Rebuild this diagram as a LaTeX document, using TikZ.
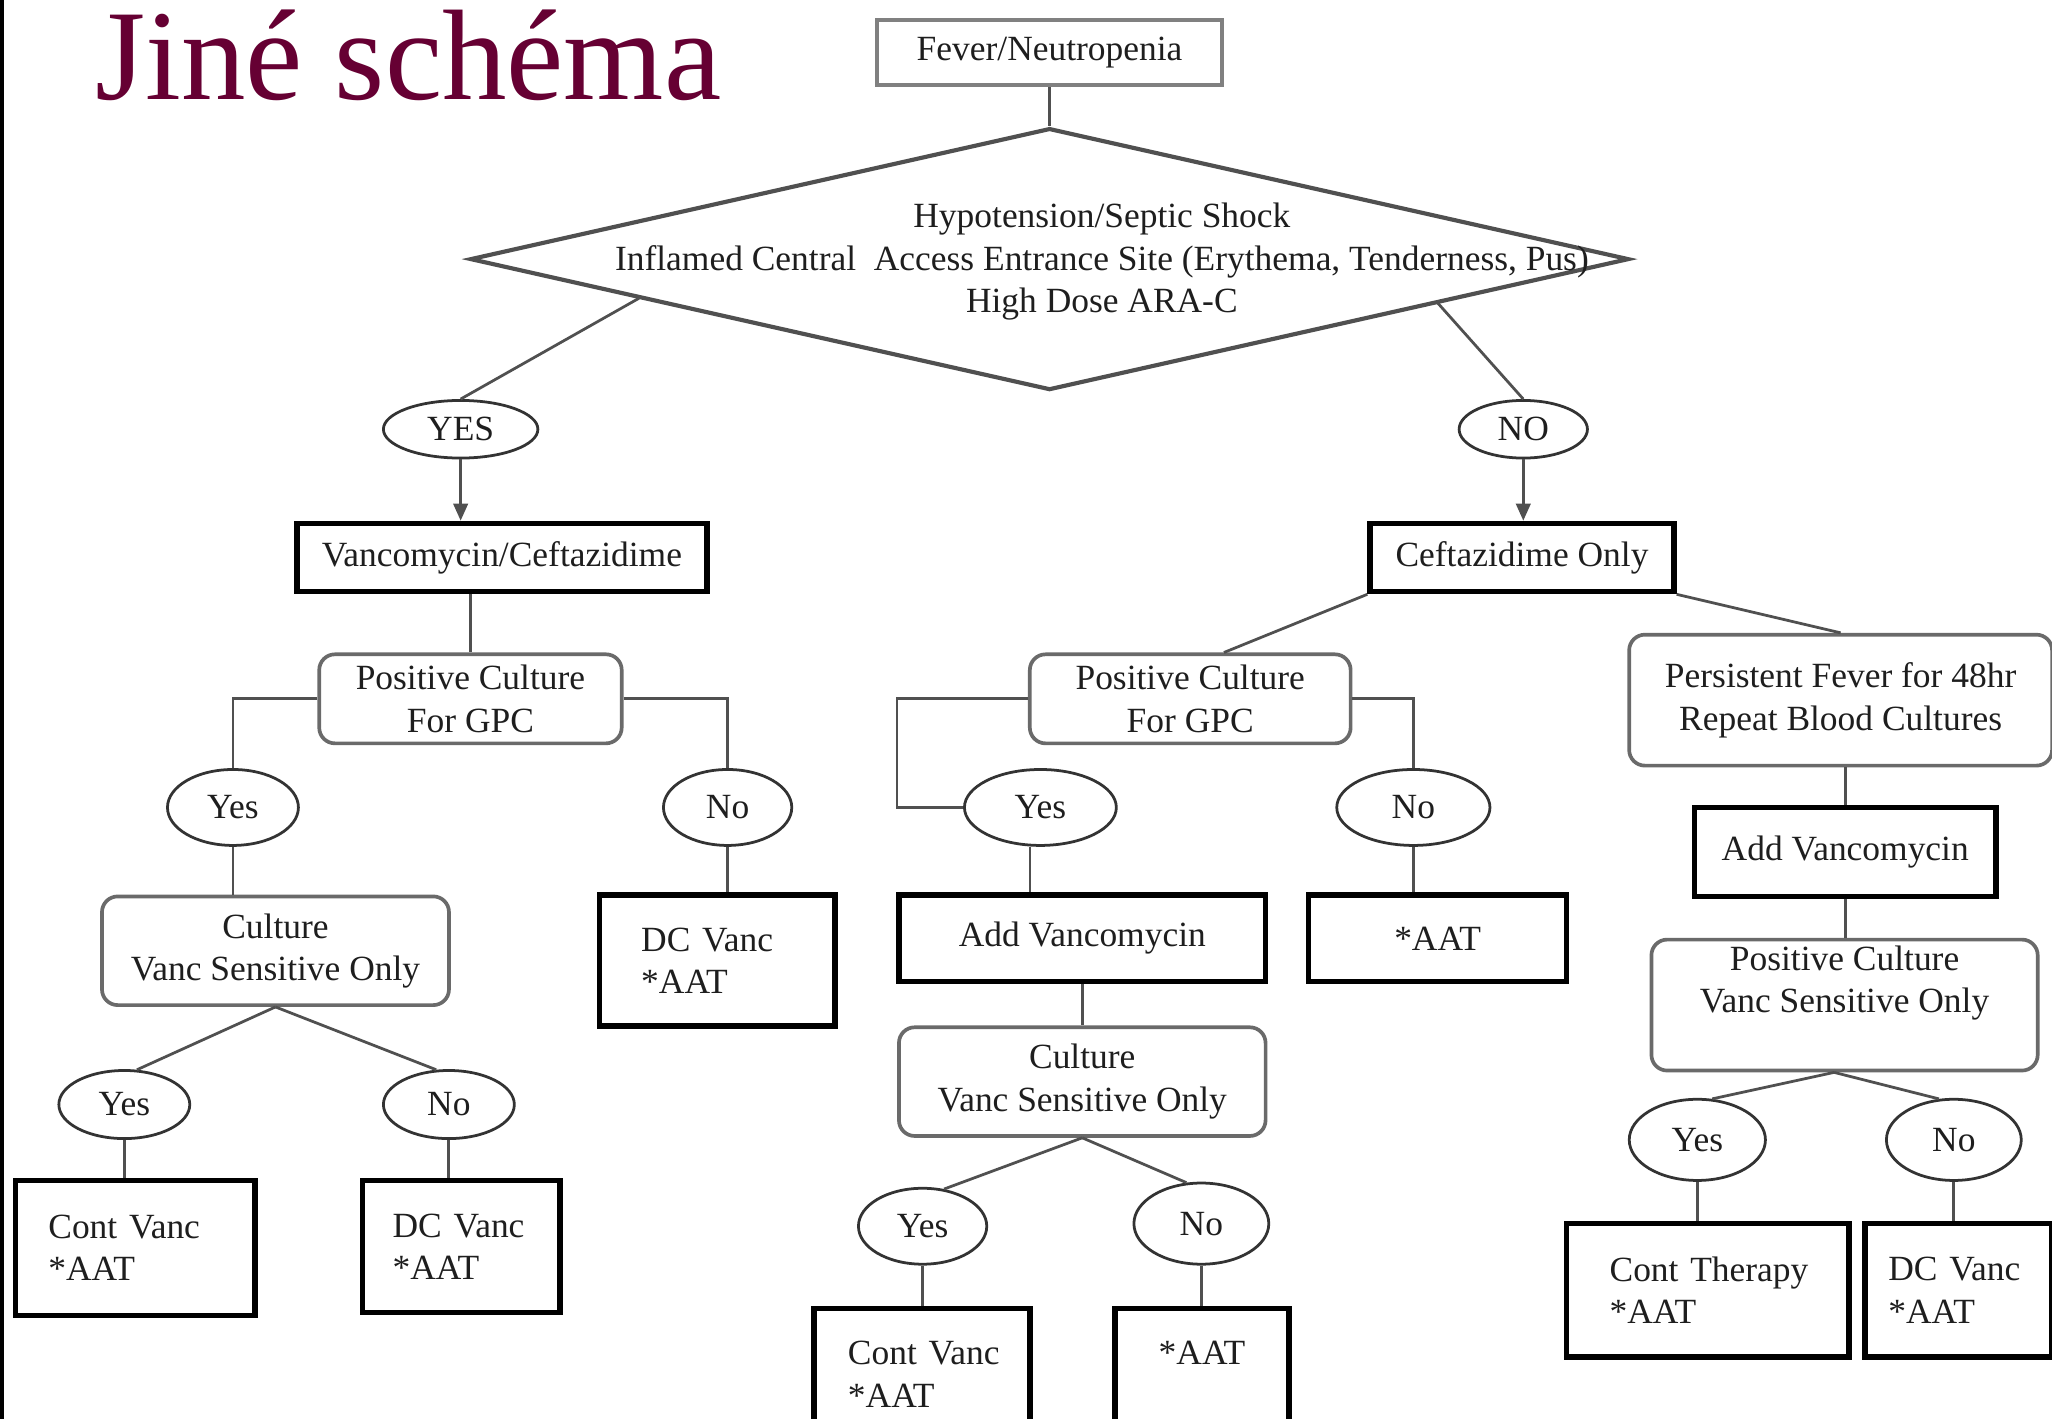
\documentclass[tikz,border=0pt]{standalone}
\usepackage{fontspec}
\setmainfont{Liberation Serif}
\usetikzlibrary{shapes.geometric,arrows.meta,calc}
\definecolor{titlecol}{RGB}{102,0,51}
\definecolor{linecol}{RGB}{80,80,80}
\definecolor{txtcol}{RGB}{30,30,30}
\begin{document}
\begin{tikzpicture}[x=0.01cm,y=-0.01cm,
  every node/.style={font=\fontsize{7.7}{9.2}\selectfont, text=txtcol, inner sep=0pt},
  conn/.style={draw=linecol, line width=0.6pt},
  tbox/.style={draw=black, line width=1.2pt, align=center},
  lbox/.style={draw=black, line width=1.2pt, align=left},
  rbox/.style={draw=linecol!85, line width=0.8pt, rounded corners=0.12cm, align=center},
  oval/.style={ellipse, draw=black!80, line width=0.6pt},
  arr/.style={conn, -{Triangle[length=1.3mm,width=1.1mm]}}]
\useasboundingbox (0,0) rectangle (1568,1084);
\clip (0,0) rectangle (1568,1084);
\fill[white] (0,0) rectangle (1568,1084);
\draw[black, line width=0.8pt] (1.5,0) -- (1.5,1084);

% title
\node[anchor=base west, font=\fontsize{28}{30}\selectfont, text=titlecol] (title) at (72,76) {Jiné schéma};

% top
\node[draw=gray, line width=0.9pt, minimum width=2.64cm, minimum height=0.5cm] (fever) at (802,40) {Fever/Neutropenia};
\node[diamond, draw=linecol, line width=0.9pt, minimum width=8.85cm, minimum height=2cm] (dia) at (802,198) {};
\node[align=center] (diatext) at (842,200) {Hypotension/Septic Shock\\Inflamed Central\ \ Access Entrance Site (Erythema, Tenderness, Pus)\\High Dose ARA-C};

\node[oval, minimum width=1.18cm, minimum height=0.44cm] (yes1) at (352,328) {YES};
\node[oval, minimum width=0.98cm, minimum height=0.44cm] (no1) at (1164,328) {NO};
\node[tbox, minimum width=3.13cm, minimum height=0.52cm] (vanc) at (383.5,426) {Vancomycin/Ceftazidime};
\node[tbox, minimum width=2.32cm, minimum height=0.52cm] (ceft) at (1163,426) {Ceftazidime Only};

% left branch
\node[rbox, minimum width=2.31cm, minimum height=0.68cm] (pc1) at (359.5,534) {Positive Culture\\For GPC};
\node[oval, minimum width=1.0cm, minimum height=0.58cm] (y2) at (178,617) {Yes};
\node[oval, minimum width=0.98cm, minimum height=0.58cm] (n2) at (556,617) {No};
\node[rbox, minimum width=2.65cm, minimum height=0.83cm] (cul1) at (210.5,726.5) {Culture\\Vanc Sensitive Only};
\node[lbox, minimum width=1.80cm, minimum height=1.0cm, text width=1.16cm] (dc1) at (548,734) {\mbox{DC Vanc}\\{}*AAT};
\node[oval, minimum width=1.0cm, minimum height=0.52cm] (y3) at (95,844) {Yes};
\node[oval, minimum width=1.0cm, minimum height=0.52cm] (n3) at (343,844) {No};
\node[lbox, minimum width=1.83cm, minimum height=1.03cm, text width=1.33cm] (cv1) at (103.5,953.5) {\mbox{Cont Vanc}\\{}*AAT};
\node[lbox, minimum width=1.51cm, minimum height=1.01cm, text width=1.05cm] (dc2) at (352.5,952.5) {\mbox{DC Vanc}\\{}*AAT};

% middle branch
\node[rbox, minimum width=2.45cm, minimum height=0.68cm] (pc2) at (909.5,534) {Positive Culture\\For GPC};
\node[oval, minimum width=1.16cm, minimum height=0.58cm] (y4) at (795,617) {Yes};
\node[oval, minimum width=1.17cm, minimum height=0.58cm] (n4) at (1080,617) {No};
\node[tbox, minimum width=2.80cm, minimum height=0.66cm] (addv1) at (827,717) {Add Vancomycin};
\node[tbox, minimum width=1.97cm, minimum height=0.66cm] (aat1) at (1098.5,717) {*AAT};
\node[rbox, minimum width=2.80cm, minimum height=0.83cm] (cul2) at (827,826.5) {Culture\\Vanc Sensitive Only};
\node[oval, minimum width=0.98cm, minimum height=0.58cm] (y5) at (705,937) {Yes};
\node[oval, minimum width=1.03cm, minimum height=0.62cm] (n5) at (918,935) {No};
\node[lbox, minimum width=1.65cm, minimum height=1.0cm, text width=1.13cm] (cv2) at (704.5,1050) {\mbox{Cont Vanc}\\{}*AAT};
\node[tbox, minimum width=1.33cm, minimum height=1.0cm] (aat2) at (918.5,1050) {*AAT\\\mbox{}};

% right branch
\node[rbox, minimum width=3.23cm, minimum height=1.0cm] (pf) at (1406.5,535) {Persistent Fever for 48hr\\Repeat Blood Cultures};
\node[tbox, minimum width=2.30cm, minimum height=0.68cm] (addv2) at (1410,651) {Add Vancomycin};
\node[rbox, minimum width=2.95cm, minimum height=1.0cm] (pc3) at (1409.5,768) {Positive Culture\\Vanc Sensitive Only\\[2pt]\mbox{}};
\node[oval, minimum width=1.04cm, minimum height=0.62cm] (y6) at (1297,871) {Yes};
\node[oval, minimum width=1.03cm, minimum height=0.62cm] (n6) at (1493,871) {No};
\node[lbox, minimum width=2.16cm, minimum height=1.02cm, text width=1.50cm] (ct) at (1305,986) {\mbox{Cont Therapy}\\{}*AAT};
\node[lbox, minimum width=1.43cm, minimum height=1.02cm, text width=1.07cm] (dc3) at (1496.5,986) {\mbox{DC Vanc}\\{}*AAT};

% connectors
\draw[conn] (fever.south) -- (dia.north);
\draw[conn] ($(dia.west)!0.294!(dia.south)$) -- (yes1.north);
\draw[conn] ($(dia.south)!0.668!(dia.east)$) -- (no1.north);
\draw[arr] (yes1.south) -- (yes1.south |- vanc.north);
\draw[arr] (no1.south) -- (no1.south |- ceft.north);

\draw[conn] (pc1.north |- vanc.south) -- (pc1.north);
\draw[conn] (pc1.west) -| (y2.north);
\draw[conn] (pc1.east) -| (n2.north);
\draw[conn] (y2.south) -- (y2.south |- cul1.north);
\draw[conn] (n2.south) -- (n2.south |- dc1.north);
\draw[conn] (cul1.south) -- (y3.70);
\draw[conn] (cul1.south) -- (n3.110);
\draw[conn] (y3.south) -- (y3.south |- cv1.north);
\draw[conn] (n3.south) -- (n3.south |- dc2.north);

\draw[conn] (ceft.south west) -- ($(pc2.north west)!0.604!(pc2.north east)$);
\draw[conn] (pc2.west) -- ++(-1cm,0) |- (y4.west);
\draw[conn] (pc2.east) -| (n4.north);
\draw[conn] ([xshift=-0.08cm]y4.south) -- ([xshift=-0.08cm]y4.south |- addv1.north);
\draw[conn] (n4.south) -- (n4.south |- aat1.north);
\draw[conn] (addv1.south) -- (cul2.north);
\draw[conn] (cul2.south) -- (y5.60);
\draw[conn] (cul2.south) -- (n5.110);
\draw[conn] (y5.south) -- (y5.south |- cv2.north);
\draw[conn] (n5.south) -- (n5.south |- aat2.north);

\draw[conn] (ceft.south east) -- (pf.north);
\draw[conn] (addv2.north |- pf.south) -- (addv2.north);
\draw[conn] (addv2.south) -- (addv2.south |- pc3.north);
\draw[conn] ([xshift=-0.08cm]pc3.south) -- (y6.70);
\draw[conn] ([xshift=-0.08cm]pc3.south) -- (n6.110);
\draw[conn] (y6.south) -- (y6.south |- ct.north);
\draw[conn] (n6.south) -- (n6.south |- dc3.north);
\end{tikzpicture}
\end{document}
